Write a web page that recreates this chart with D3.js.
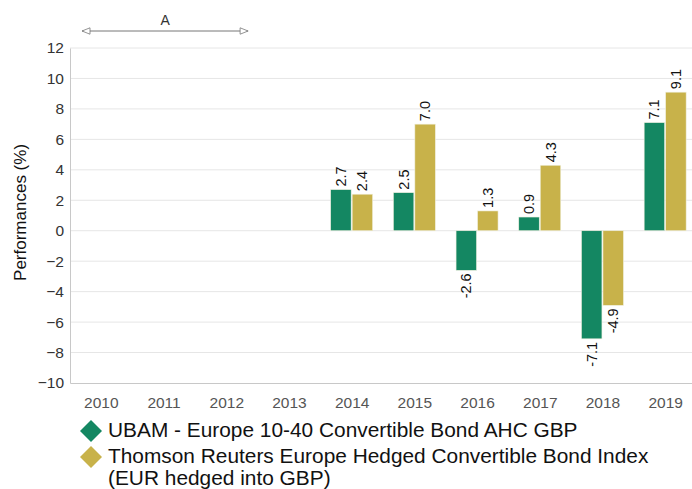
<!DOCTYPE html>
<html>
<head>
<meta charset="utf-8">
<script src="https://cdn.jsdelivr.net/npm/d3@7"></script>
<style>
  body { margin: 0; background: #fff; }
  text { font-family: "Liberation Sans", Arial, sans-serif; }
</style>
</head>
<body>
<div id="chart"></div>
<script>
// chart data
var years = ["2010", "2011", "2012", "2013", "2014", "2015", "2016", "2017", "2018", "2019"];
var fundValues = [null, null, null, null, 2.7, 2.5, -2.6, 0.9, -7.1, 7.1];
var indexValues = [null, null, null, null, 2.4, 7.0, 1.3, 4.3, -4.9, 9.1];
var yTicks = [-10, -8, -6, -4, -2, 0, 2, 4, 6, 8, 10, 12];
var seriesNames = ["UBAM - Europe 10-40 Convertible Bond AHC GBP",
                   "Thomson Reuters Europe Hedged Convertible Bond Index",
                   "(EUR hedged into GBP)"];
var colors = ["#148762", "#c8b24a"];

var width = 692, height = 489;
var margin = {top: 48, right: -5, bottom: 106, left: 70};
var innerW = width - margin.left - margin.right,
    innerH = height - margin.top - margin.bottom;

var svg = d3.select("#chart").append("svg")
    .attr("width", width)
    .attr("height", height);

var g = svg.append("g")
    .attr("transform", "translate(" + margin.left + "," + margin.top + ")");

var xScale = d3.scaleBand().domain(years).range([0, innerW]);
var xSub = d3.scaleBand().domain([0, 1]).range([0, 43]);
var yScale = d3.scaleLinear().domain([-10, 12]).range([innerH, 0]);

// gridlines
g.selectAll(".grid").data(yTicks.filter(function(d) { return d > -10; }))
  .enter().append("line")
    .attr("x1", 0).attr("x2", innerW)
    .attr("y1", function(d) { return yScale(d); })
    .attr("y2", function(d) { return yScale(d); })
    .attr("stroke", "#e6e6e6").attr("stroke-width", 1);

// y axis
var yAxis = g.append("g")
    .call(d3.axisLeft(yScale).tickValues(yTicks).tickSize(0).tickPadding(6));
yAxis.select(".domain").attr("stroke", "#c8c8c8");
yAxis.selectAll("text").attr("font-size", 15.5).attr("fill", "#333")
    .style("font-family", "Liberation Sans, Arial, sans-serif");

// x axis at bottom
var xAxis = g.append("g")
    .attr("transform", "translate(0," + innerH + ")")
    .call(d3.axisBottom(xScale).tickSize(0).tickPadding(14));
xAxis.select(".domain").attr("stroke", "#c8c8c8");
xAxis.selectAll("text").attr("font-size", 15.5).attr("fill", "#555")
    .style("font-family", "Liberation Sans, Arial, sans-serif");

// bars
var series = [fundValues, indexValues];
series.forEach(function(vals, si) {
  var data = years.map(function(y, i) { return {year: y, value: vals[i]}; })
    .filter(function(d) { return d.value !== null; });
  var off = (xScale.bandwidth() - 43) / 2 + xSub(si);
  g.selectAll(".bar" + si).data(data).enter().append("rect")
    .attr("x", function(d) { return xScale(d.year) + off; })
    .attr("y", function(d) { return yScale(Math.max(0, d.value)); })
    .attr("width", xSub.bandwidth() - 1)
    .attr("height", function(d) { return Math.abs(yScale(d.value) - yScale(0)); })
    .attr("fill", colors[si])
    .attr("stroke", "#f0f0e0").attr("stroke-width", 0.6);

  g.selectAll(".lab" + si).data(data).enter().append("text")
    .attr("transform", function(d) {
      var cx = xScale(d.year) + off + (xSub.bandwidth() - 1) / 2 + 5;
      var cy = yScale(d.value) + (d.value >= 0 ? -3 : 3);
      return "translate(" + cx + "," + cy + ") rotate(-90)";
    })
    .attr("text-anchor", function(d) { return d.value >= 0 ? "start" : "end"; })
    .attr("font-size", 14.5).attr("fill", "#111")
    .text(function(d) { return d.value.toFixed(1); });
});

// y axis title
svg.append("text")
  .attr("transform", "translate(26," + (margin.top + yScale(1.2)) + ") rotate(-90)")
  .attr("text-anchor", "middle")
  .attr("font-size", 17).attr("fill", "#111")
  .text("Performances (%)");

// annotation "A" arrow
var defs = svg.append("defs");
defs.append("marker").attr("id", "arrow")
  .attr("viewBox", "0 0 10 10").attr("refX", 10).attr("refY", 5)
  .attr("markerWidth", 10).attr("markerHeight", 8).attr("orient", "auto-start-reverse")
  .attr("markerUnits", "userSpaceOnUse")
  .append("path").attr("d", "M0,1 L10,5 L0,9 Z")
  .attr("fill", "#fff").attr("stroke", "#777").attr("stroke-width", 1);
var ax1 = margin.left + xScale("2010") + 12, ax2 = margin.left + xScale("2013") - 10;
svg.append("line")
  .attr("x1", ax1).attr("x2", ax2).attr("y1", 31).attr("y2", 31)
  .attr("stroke", "#777").attr("stroke-width", 1)
  .attr("marker-start", "url(#arrow)").attr("marker-end", "url(#arrow)");
svg.append("text")
  .attr("x", (ax1 + ax2) / 2).attr("y", 25)
  .attr("text-anchor", "middle").attr("font-size", 14).attr("fill", "#333")
  .text("A");

// legend
var legendRows = [
  {y: 431, text: seriesNames[0], color: colors[0]},
  {y: 457, text: seriesNames[1], color: colors[1]},
  {y: 479, text: seriesNames[2], color: null}
];
legendRows.forEach(function(r) {
  if (r.color) {
    svg.append("path")
      .attr("d", "M0,-11 L11,0 L0,11 L-11,0 Z")
      .attr("transform", "translate(91," + r.y + ")")
      .attr("fill", r.color);
  }
  svg.append("text")
    .attr("transform", "translate(108," + (r.y + 6) + ") scale(1.07,1)")
    .attr("font-size", 19.5).attr("fill", "#111")
    .text(r.text);
});
</script>
</body>
</html>
